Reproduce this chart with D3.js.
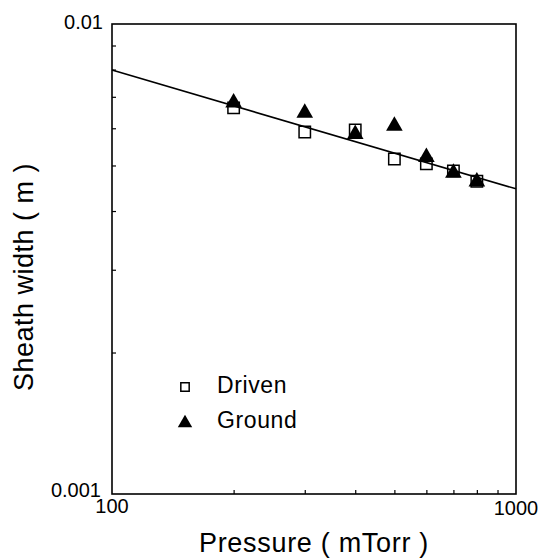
<!DOCTYPE html>
<html>
<head>
<meta charset="utf-8">
<script src="https://cdn.jsdelivr.net/npm/d3@7"></script>
<style>
  body { margin: 0; background: #fff; }
  svg text { font-family: "Liberation Sans", Arial, sans-serif; fill: #000; }
</style>
</head>
<body>
<div id="chart"></div>
<script>
// data
const pressure = [200, 300, 400, 500, 600, 700, 800];
const driven   = [0.00663, 0.00589, 0.00595, 0.00516, 0.00504, 0.00487, 0.00463];
const ground   = [0.00680, 0.00647, 0.00583, 0.00607, 0.00521, 0.00482, 0.00462];
const fitX = [100, 1000];
const fitY = [0.00798, 0.00446];
const xMinor = [200, 300, 400, 500, 600, 700, 800, 900];
const yMinor = [0.002, 0.003, 0.004, 0.005, 0.006, 0.007, 0.008, 0.009];

const W = 541, H = 559;
const margin = {top: 24, right: 25, bottom: 65, left: 112};
const width = W - margin.left - margin.right,
      height = H - margin.top - margin.bottom;

const svg = d3.select("#chart")
    .append("svg")
    .attr("width", W)
    .attr("height", H)
  .append("g")
    .attr("transform", `translate(${margin.left},${margin.top})`);

const x = d3.scaleLog().domain([100, 1000]).range([0, width]);
const y = d3.scaleLog().domain([0.001, 0.01]).range([height, 0]);

// minor ticks, pointing inward
svg.append("g")
   .attr("transform", `translate(0,${height})`)
   .call(d3.axisTop(x).tickValues(xMinor).tickSize(4).tickFormat(""))
   .call(g => g.select(".domain").remove())
   .selectAll("line").attr("stroke", "#000").attr("stroke-width", 1.2);
svg.append("g")
   .call(d3.axisRight(y).tickValues(yMinor).tickSize(4).tickFormat(""))
   .call(g => g.select(".domain").remove())
   .selectAll("line").attr("stroke", "#000").attr("stroke-width", 1.2);

// frame
svg.append("rect")
   .attr("width", width).attr("height", height)
   .attr("fill", "none").attr("stroke", "#000").attr("stroke-width", 1.6);

// tick labels
const fs = 20;
svg.append("text").attr("x", -9).attr("y", y(0.01) + 5)
   .attr("text-anchor", "end").attr("font-size", fs).text("0.01");
svg.append("text").attr("x", -11).attr("y", y(0.001) + 3)
   .attr("text-anchor", "end").attr("font-size", fs).text("0.001");
svg.append("text").attr("x", x(100)).attr("y", height + 19)
   .attr("text-anchor", "middle").attr("font-size", fs).text("100");
svg.append("text").attr("x", x(1000)).attr("y", height + 21)
   .attr("text-anchor", "middle").attr("font-size", fs).text("1000");

// axis titles
svg.append("text")
   .attr("x", width / 2).attr("y", height + 58)
   .attr("text-anchor", "middle").attr("font-size", 27)
   .attr("letter-spacing", 0.7)
   .text("Pressure ( mTorr )");
svg.append("text")
   .attr("transform", `translate(${33 - margin.left},${277 - margin.top}) rotate(-90)`)
   .attr("text-anchor", "middle").attr("font-size", 27)
   .attr("letter-spacing", 0.5)
   .text("Sheath width ( m )");

// fit line
const fit = fitX.map((d, i) => [d, fitY[i]]);
svg.append("path")
   .datum(fit)
   .attr("fill", "none").attr("stroke", "#000").attr("stroke-width", 1.6)
   .attr("d", d3.line().x(d => x(d[0])).y(d => y(d[1])));

// markers
const sq = d3.symbol().type(d3.symbolSquare).size(130);
const tri = d3.symbol().type(d3.symbolTriangle).size(120);

svg.selectAll(".driven")
   .data(pressure.map((p, i) => [p, driven[i]]))
   .enter().append("path")
   .attr("class", "driven")
   .attr("transform", d => `translate(${x(d[0])},${y(d[1])})`)
   .attr("d", sq)
   .attr("fill", "none").attr("stroke", "#000").attr("stroke-width", 1.5);

svg.selectAll(".ground")
   .data(pressure.map((p, i) => [p, ground[i]]))
   .enter().append("path")
   .attr("class", "ground")
   .attr("transform", d => `translate(${x(d[0])},${y(d[1])})`)
   .attr("d", tri)
   .attr("fill", "#000");

// legend
const legend = svg.append("g").attr("transform", `translate(${185 - margin.left},0)`);
legend.append("path")
   .attr("transform", `translate(0,${387 - margin.top})`)
   .attr("d", d3.symbol().type(d3.symbolSquare).size(70))
   .attr("fill", "none").attr("stroke", "#000").attr("stroke-width", 1.5);
legend.append("path")
   .attr("transform", `translate(0,${423 - margin.top})`)
   .attr("d", d3.symbol().type(d3.symbolTriangle).size(90))
   .attr("fill", "#000");
legend.append("text").attr("x", 32).attr("y", 393 - margin.top)
   .attr("font-size", 23).attr("letter-spacing", 0.6).text("Driven");
legend.append("text").attr("x", 32).attr("y", 428 - margin.top)
   .attr("font-size", 23).attr("letter-spacing", 0.6).text("Ground");
</script>
</body>
</html>
